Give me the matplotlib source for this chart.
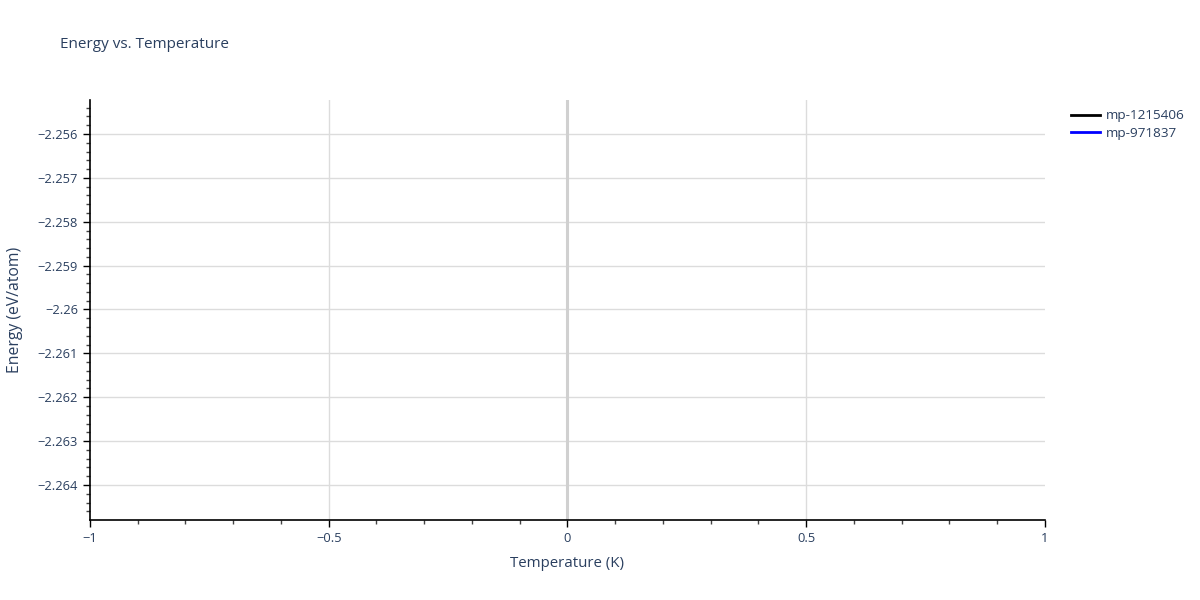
import matplotlib
matplotlib.use("Agg")
import matplotlib.pyplot as plt
from matplotlib.ticker import MultipleLocator, FuncFormatter
import numpy as np

# data: one point per material at T = 0 (lines, so nothing visible)
temperature = [0.0]
series_names = ["mp-1215406", "mp-971837"]
series_colors = ["black", "blue"]
energy_1215406 = [-2.26001]
energy_971837 = [-2.26001]

xlim = (-1, 1)
ylim = (-2.264798, -2.255225)
x_ticks = [-1, -0.5, 0, 0.5, 1]

TXT = "#2a3f5f"
GRID = "#dcdcdc"

plt.rcParams["font.family"] = ["Open Sans", "DejaVu Sans"]

fig = plt.figure(figsize=(12, 6), dpi=100)
ax = fig.add_axes([90 / 1200, 1 - 520 / 600, (1045 - 90) / 1200, 420 / 600])

for name, col, ys in zip(series_names, series_colors,
                         [energy_1215406, energy_971837]):
    ax.plot(temperature, ys, color=col, lw=2, label=name)

ax.set_xlim(*xlim)
ax.set_ylim(*ylim)

ax.set_xticks(x_ticks)
ax.xaxis.set_minor_locator(MultipleLocator(0.1))
ax.yaxis.set_major_locator(MultipleLocator(0.001))
ax.yaxis.set_minor_locator(MultipleLocator(0.0002))


def fmt(v, pos, dec):
    s = f"{v:.{dec}f}".rstrip("0").rstrip(".")
    if s in ("-0", "0"):
        return "0"
    return s.replace("-", "\u2212")


ax.xaxis.set_major_formatter(FuncFormatter(lambda v, p: fmt(v, p, 1)))
ax.yaxis.set_major_formatter(FuncFormatter(lambda v, p: fmt(v, p, 3)))

ax.grid(True, axis="y", which="major", color=GRID, lw=1)
for xv in x_ticks:
    if xlim[0] < xv < xlim[1]:
        if xv == 0:
            ax.axvline(xv, color="#d0d0d0", lw=2.2, zorder=1)
        else:
            ax.axvline(xv, color=GRID, lw=1, zorder=0.5)
ax.set_axisbelow(True)

for side in ["top", "right"]:
    ax.spines[side].set_visible(False)
for side in ["left", "bottom"]:
    ax.spines[side].set_color("black")
    ax.spines[side].set_linewidth(1.2)

ax.tick_params(which="major", direction="out", length=5, width=1,
               color="black", labelsize=9.3, labelcolor=TXT)
ax.tick_params(which="minor", direction="out", length=3, width=1,
               color="#444444")

ax.set_xlabel("Temperature (K)", fontsize=10.8, color=TXT, labelpad=8)
ax.set_ylabel("Energy (eV/atom)", fontsize=11.3, color=TXT, labelpad=11)

fig.text(60 / 1200, 1 - 45 / 600, "Energy vs. Temperature", fontsize=11,
         color=TXT, va="center", ha="left")

leg = ax.legend(loc="upper left", bbox_to_anchor=(1.017, 1.0), frameon=False,
                fontsize=9.7, handlelength=2.2, labelspacing=0.35,
                handletextpad=0.4, borderaxespad=0.3)
for t in leg.get_texts():
    t.set_color(TXT)

fig.savefig("out.png", dpi=100)
